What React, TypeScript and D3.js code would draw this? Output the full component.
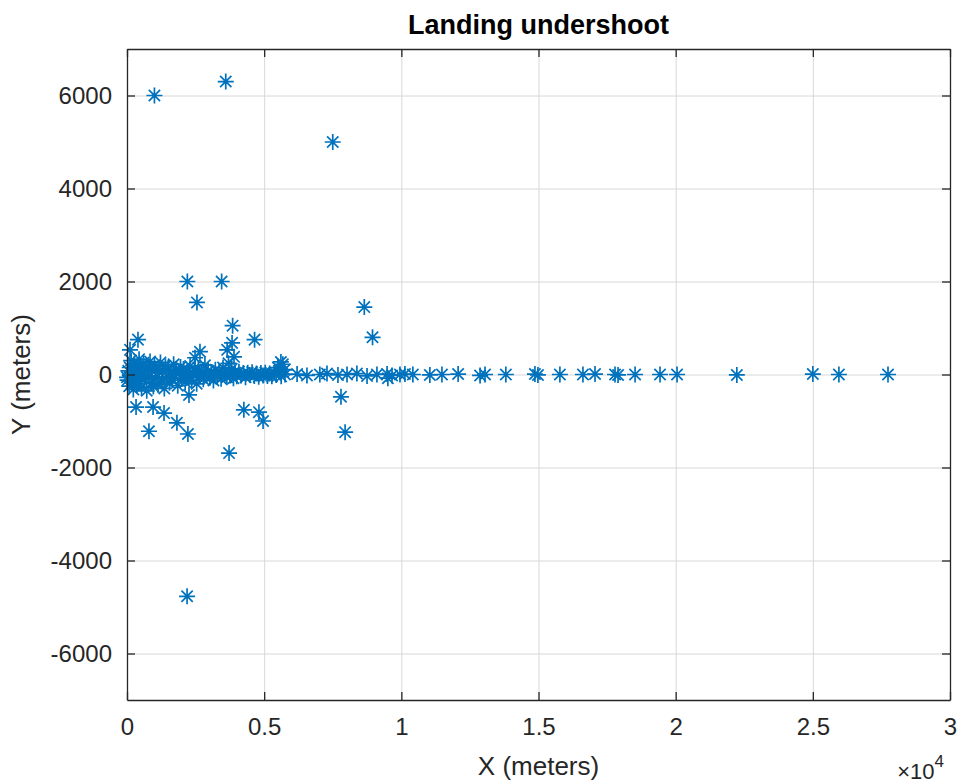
import React, { useEffect, useRef } from 'react';
import * as d3 from 'd3';

const xTicks = [0, 5000, 10000, 15000, 20000, 25000, 30000];
const xTickLabels = ['0', '0.5', '1', '1.5', '2', '2.5', '3'];
const yTicks = [-6000, -4000, -2000, 0, 2000, 4000, 6000];

// scattered points away from the runway centre line
const outliers: [number, number][] = [
  [1000, 6000], [3600, 6300], [7500, 5000], [2200, 2000], [3450, 2000],
  [2550, 1550], [8650, 1450], [8950, 800], [3850, 1050], [4650, 750],
  [400, 750], [3830, 680], [3650, 530], [3900, 380], [110, 530],
  [2660, 490], [2480, 360], [5610, 270],
  [2260, -440], [330, -700], [950, -700], [1350, -830], [1820, -1040],
  [2220, -1280], [800, -1220], [4260, -760], [4810, -810], [4960, -1000],
  [3720, -1690], [7800, -480], [7950, -1240], [2190, -4770], [9510, -80]
];

// dense band near the threshold
const cluster: [number, number][] = [
  [0, -60], [20, -120], [50, 80], [80, -250], [100, 150], [130, -40], [150, 300],
  [180, -180], [200, 40], [230, -320], [260, 220], [290, -90], [320, 120],
  [350, -200], [380, 60], [410, -150], [440, 330], [470, -60], [500, 180],
  [530, -280], [560, 20], [600, 250], [640, -110], [680, 90], [720, -350],
  [760, 160], [800, -30], [840, 280], [880, -190], [920, 70], [960, -260],
  [1000, 200], [1040, -80], [1090, 120], [1130, -220], [1180, 40], [1220, 260],
  [1270, -140], [1310, 80], [1360, -300], [1400, 180], [1450, -50], [1500, 140],
  [1550, -180], [1600, 60], [1650, -120], [1700, 220], [1750, -20], [1800, 100],
  [1850, -240], [1900, 30], [1950, 160],
  [2000, -90], [2060, 120], [2120, -160], [2180, 50], [2240, -60], [2300, 180],
  [2360, -120], [2420, 20], [2480, 90], [2540, -200], [2600, 140], [2660, -40],
  [2720, 60], [2780, -100], [2840, 200], [2900, -20], [2960, 80],
  [3020, -70], [3080, 40], [3150, -130], [3220, 100], [3290, -30], [3360, 60],
  [3430, -90], [3500, 150], [3570, 20], [3640, -60], [3700, 240], [3760, -20],
  [3820, 120], [3880, -80], [3940, 40],
  [4000, -40], [4080, 60], [4160, -20], [4240, 30], [4320, -60], [4400, 40],
  [4480, -10], [4560, 50], [4640, -30], [4720, 20], [4800, -50], [4880, 30],
  [4960, -20], [5040, 40], [5120, -30], [5200, 20], [5280, -40], [5360, 30],
  [5440, -10], [5500, 150], [5560, 60], [5620, -40], [5680, 220], [5740, 100]
];

// long landings along the centre line
const tail: [number, number][] = [
  [5760, 0], [6200, 10], [6560, -20], [7030, 0], [7290, 20], [7690, -10],
  [8020, 0], [8380, 20], [8750, -30], [9110, 0], [9480, 10], [9660, -20],
  [9950, 0], [10130, 10], [10420, 0], [11040, -10], [11480, 0], [12070, 10],
  [12870, -20], [13050, 0], [13810, 0], [14870, 10], [14980, -10], [15780, 0],
  [16620, 0], [17060, 10], [17790, 0], [17900, -10], [18520, 0], [19430, 0],
  [20050, 0], [22230, -10], [25000, 10], [25950, 0], [27740, 0]
];

export default function App() {
  const svgRef = useRef<SVGSVGElement>(null);

  useEffect(() => {
    const W = 960, H = 783;
    const margin = { top: 49, right: 10, bottom: 83, left: 127 };
    const width = W - margin.left - margin.right;
    const height = H - margin.top - margin.bottom;
    const font = "'Liberation Sans', Arial, Helvetica, sans-serif";
    const ink = '#262626';

    const svg = d3.select(svgRef.current);
    svg.selectAll('*').remove();
    svg.append('rect').attr('width', W).attr('height', H).attr('fill', '#fff');

    const g = svg.append('g').attr('transform', `translate(${margin.left},${margin.top})`);

    const x = d3.scaleLinear().domain([0, 30000]).range([0, width]);
    const y = d3.scaleLinear().domain([-7000, 7000]).range([height, 0]);

    // grid
    const gx = g.append('g').attr('transform', `translate(0,${height})`)
      .call(d3.axisBottom(x).tickValues(xTicks).tickSize(-height).tickFormat(() => ''));
    const gy = g.append('g')
      .call(d3.axisLeft(y).tickValues(yTicks).tickSize(-width).tickFormat(() => ''));
    [gx, gy].forEach(a => {
      a.select('.domain').remove();
      a.selectAll('line').attr('stroke', '#d8d8d8').attr('stroke-width', 1);
    });

    // asterisk markers
    const r = 8, d = r * 0.707;
    const star = `M${-r},0H${r}M0,${-r}V${r}M${-d},${-d}L${d},${d}M${-d},${d}L${d},${-d}`;
    const pts = [...cluster, ...tail, ...outliers];
    g.append('g').selectAll('path')
      .data(pts)
      .join('path')
      .attr('transform', p => `translate(${x(p[0])},${y(p[1])})`)
      .attr('d', star)
      .attr('fill', 'none')
      .attr('stroke', '#0072BD')
      .attr('stroke-width', 1.7);

    // box axes with inward ticks
    const tk = 8;
    const bottom = g.append('g').attr('transform', `translate(0,${height})`)
      .call(d3.axisBottom(x).tickValues(xTicks).tickSizeInner(-tk).tickSizeOuter(0)
        .tickPadding(18).tickFormat((_, i) => xTickLabels[i]));
    const left = g.append('g')
      .call(d3.axisLeft(y).tickValues(yTicks).tickSizeInner(-tk).tickSizeOuter(0)
        .tickPadding(15).tickFormat(v => String(v)));
    const top = g.append('g')
      .call(d3.axisTop(x).tickValues(xTicks).tickSizeInner(-tk).tickSizeOuter(0).tickFormat(() => ''));
    const right = g.append('g').attr('transform', `translate(${width},0)`)
      .call(d3.axisRight(y).tickValues(yTicks).tickSizeInner(-tk).tickSizeOuter(0).tickFormat(() => ''));
    [bottom, left, top, right].forEach(a => {
      a.select('.domain').attr('stroke', ink).attr('stroke-width', 1.3);
      a.selectAll('line').attr('stroke', ink).attr('stroke-width', 1.3);
      a.selectAll('text').attr('fill', ink).attr('font-size', 24).attr('font-family', font);
    });

    // title and labels
    svg.append('text')
      .attr('x', margin.left + width / 2).attr('y', 34)
      .attr('text-anchor', 'middle')
      .attr('font-family', font).attr('font-size', 27).attr('font-weight', 'bold')
      .attr('fill', '#000')
      .text('Landing undershoot');

    svg.append('text')
      .attr('x', margin.left + width / 2).attr('y', 775)
      .attr('text-anchor', 'middle')
      .attr('font-family', font).attr('font-size', 26).attr('fill', ink)
      .text('X (meters)');

    svg.append('text')
      .attr('transform', `translate(30,${margin.top + height / 2}) rotate(-90)`)
      .attr('text-anchor', 'middle')
      .attr('font-family', font).attr('font-size', 26).attr('fill', ink)
      .text('Y (meters)');

    const exp = svg.append('text')
      .attr('x', 944).attr('y', 779)
      .attr('text-anchor', 'end')
      .attr('font-family', font).attr('fill', ink);
    exp.append('tspan').attr('font-size', 22).text('×10');
    exp.append('tspan').attr('font-size', 17).attr('dy', -12).text('4');
  }, []);

  return (
    <svg ref={svgRef} width={960} height={783}
      style={{ position: 'absolute', left: 0, top: 0, display: 'block' }} />
  );
}
